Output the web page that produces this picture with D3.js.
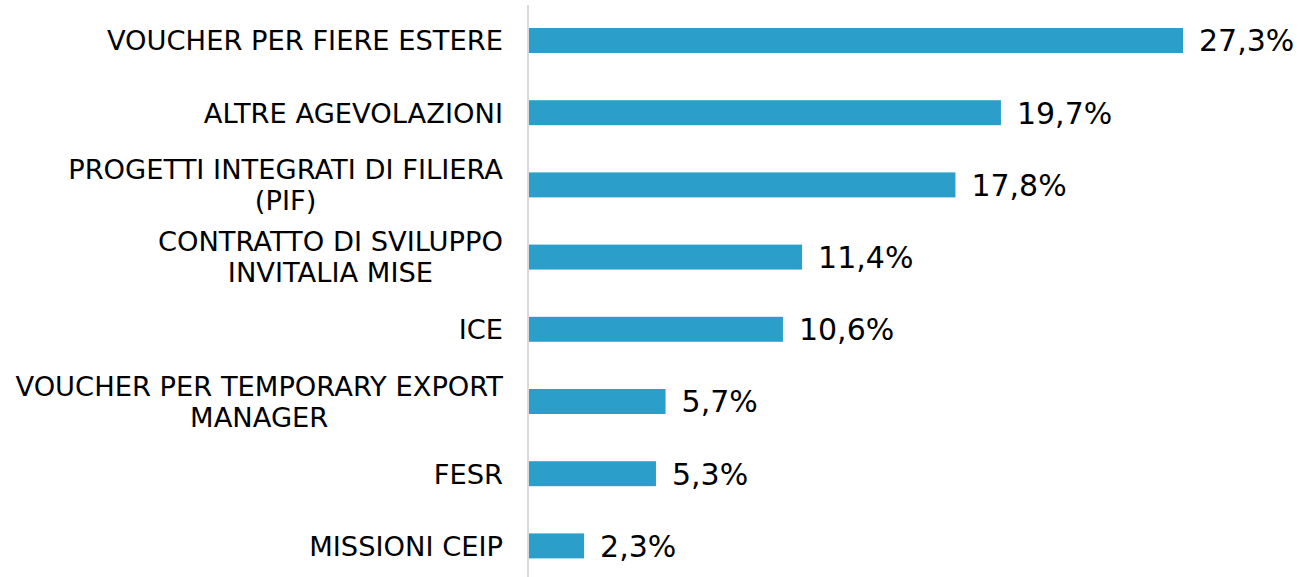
<!DOCTYPE html>
<html>
<head>
<meta charset="utf-8">
<script src="https://cdn.jsdelivr.net/npm/d3@7"></script>
<style>
    body { margin: 0; background: #fff; }
    svg { display: block; }
</style>
</head>
<body>
<div id="chart"></div>
<script>
// data
const categories = [
    ["VOUCHER PER FIERE ESTERE"],
    ["ALTRE AGEVOLAZIONI"],
    ["PROGETTI INTEGRATI DI FILIERA", "(PIF)"],
    ["CONTRATTO DI SVILUPPO", "INVITALIA MISE"],
    ["ICE"],
    ["VOUCHER PER TEMPORARY EXPORT", "MANAGER"],
    ["FESR"],
    ["MISSIONI CEIP"]
];
const values = [27.3, 19.7, 17.8, 11.4, 10.6, 5.7, 5.3, 2.3];

const width = 1302;
const height = 577;
const axisX = 529;
const labelRight = 503;
const barColor = "#2b9fc9";
const format = d => d3.format(".1f")(d).replace(".", ",") + "%";

const keys = categories.map(c => c.join(" "));

const x = d3.scaleLinear()
    .domain([0, 27.3])
    .range([axisX, 1183]);

const y = d3.scaleBand()
    .domain(keys)
    .range([4.4, 582])
    .paddingInner(0.654)
    .paddingOuter(0.327);

const svg = d3.select("#chart").append("svg")
    .attr("width", width)
    .attr("height", height);

// vertical axis line
svg.append("line")
    .attr("x1", axisX - 1).attr("x2", axisX - 1)
    .attr("y1", 5).attr("y2", height)
    .attr("stroke", "#d9d9d9")
    .attr("stroke-width", 2);

svg.append("g")
    .selectAll("rect")
    .data(values)
    .join("rect")
    .attr("x", x(0))
    .attr("y", (d, i) => y(keys[i]))
    .attr("width", d => x(d) - x(0))
    .attr("height", y.bandwidth())
    .attr("fill", barColor);

svg.append("g")
    .style("font", "30px 'DejaVu Sans', Verdana, sans-serif")
    .attr("fill", "#000")
    .selectAll("text")
    .data(values)
    .join("text")
    .attr("x", d => x(d) + 16)
    .attr("y", (d, i) => y(keys[i]) + y.bandwidth() / 2)
    .attr("dy", "0.36em")
    .text(format);

// category labels: block right-aligned, lines centred inside the block
const lineHeight = 31;
const labels = svg.append("g")
    .style("font", "27.3px 'DejaVu Sans', Tahoma, sans-serif")
    .attr("fill", "#000");

categories.forEach((lines, i) => {
    const cy = y(keys[i]) + y.bandwidth() / 2;
    const t = labels.append("text")
        .attr("text-anchor", "middle");
    const spans = lines.map((line, j) => t.append("tspan")
        .attr("y", cy + (j - (lines.length - 1) / 2) * lineHeight)
        .attr("dy", "0.36em")
        .text(line));
    const w = d3.max(spans, s => s.node().getComputedTextLength());
    spans.forEach(s => s.attr("x", labelRight - w / 2));
});
</script>
</body>
</html>
